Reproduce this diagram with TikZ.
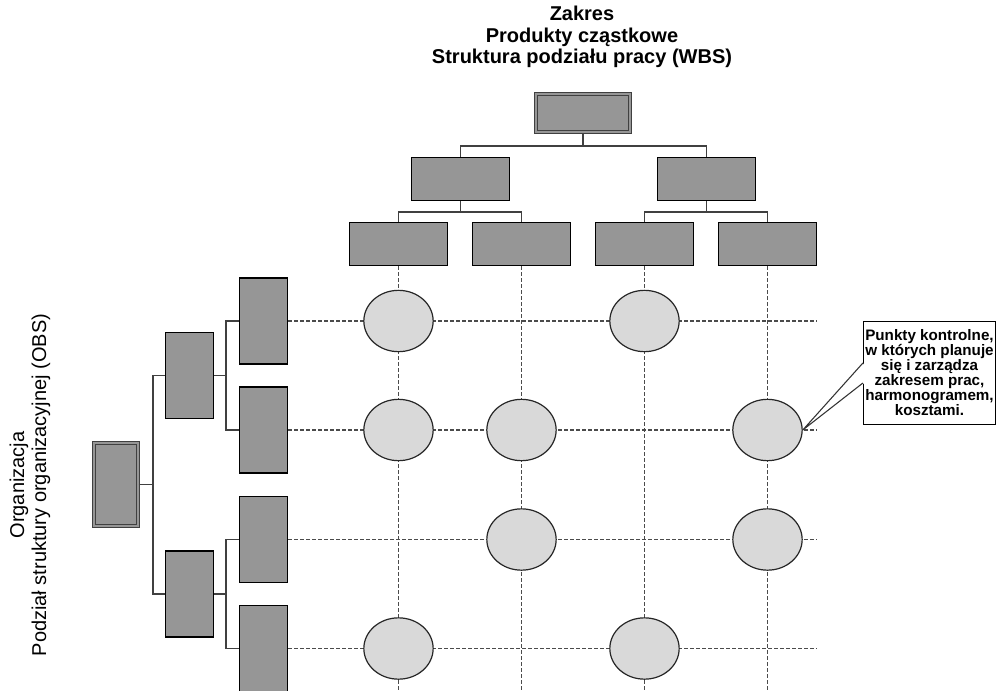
\documentclass[tikz,border=0pt]{standalone}
\usepackage{fontspec}
\setmainfont{Liberation Sans}
\usetikzlibrary{shapes.geometric,calc}
\definecolor{boxgray}{RGB}{150,150,150}
\definecolor{ptgray}{RGB}{217,217,217}
\definecolor{linegray}{RGB}{75,75,75}
\begin{document}
\begin{tikzpicture}[x=0.75pt,y=-0.75pt,
  box/.style={draw=black, fill=boxgray, line width=1.1pt, inner sep=0pt},
  hbox/.style={box, minimum width=73.5pt, minimum height=32pt},
  vbox/.style={box, minimum width=36pt, minimum height=64.5pt},
  dbl/.style={draw=black!75, fill=boxgray, double=boxgray, line width=0.8pt, double distance=1.3pt, inner sep=0pt},
  ptnode/.style={ellipse, draw=black!85, fill=ptgray, line width=0.9pt, minimum width=52pt, minimum height=46pt, inner sep=0pt},
  tree/.style={draw=black!75, line width=1pt},
  gridline/.style={draw=linegray, line width=1.1pt, dash pattern=on 3pt off 1.5pt},
  notebox/.style={rectangle, draw=black, fill=white, line width=0.9pt, minimum width=99pt, minimum height=77.25pt, inner sep=0pt, align=center, font=\fontsize{11.4}{11.25}\selectfont\bfseries},
  pointer/.style={draw=black!80, line width=0.8pt}
]
\clip (0,0) rectangle (997,690);

% titles
\node[font=\fontsize{15}{16}\selectfont\bfseries, align=center] (title) at (582,37) {Zakres\\Produkty cząstkowe\\Struktura podziału pracy (WBS)};
\node[font=\fontsize{15}{16.5}\selectfont, align=center, rotate=90] (obstitle) at (30,485) {Organizacja\\Podział struktury organizacyjnej (OBS)};

% WBS
\node[dbl, minimum width=71pt, minimum height=29pt] (top) at (583,113) {};
\node[hbox] (w1) at (460.5,179) {};
\node[hbox] (w2) at (706.5,179) {};
\node[hbox] (w11) at (398.5,244) {};
\node[hbox] (w12) at (521.5,244) {};
\node[hbox] (w21) at (644.5,244) {};
\node[hbox] (w22) at (767.5,244) {};

\coordinate (wb0) at (583,146);
\coordinate (wb1) at (460.5,212);
\coordinate (wb2) at (706.5,212);
\draw[tree] (top.south) -- (wb0);
\draw[tree] (w1.north) |- (wb0) -| (w2.north);
\draw[tree] (w1.south) -- (wb1);
\draw[tree] (w11.north) |- (wb1) -| (w12.north);
\draw[tree] (w2.south) -- (wb2);
\draw[tree] (w21.north) |- (wb2) -| (w22.north);

% OBS
\node[dbl, minimum width=33pt, minimum height=62pt] (root) at (116,484.5) {};
\node[vbox] (o1) at (189.5,375.5) {};
\node[vbox] (o2) at (189.5,594) {};
\node[vbox] (o11) at (263.5,321) {};
\node[vbox] (o12) at (263.5,430) {};
\node[vbox] (o21) at (263.5,539.5) {};
\node[vbox] (o22) at (263.5,648.5) {};

\coordinate (ob0) at (153,484.5);
\coordinate (ob1) at (226,375.5);
\coordinate (ob2) at (226,594);
\draw[tree] (root.east) -- (ob0);
\draw[tree] (o1.west) -| (ob0) |- (o2.west);
\draw[tree] (o1.east) -- (ob1);
\draw[tree] (o11.west) -| (ob1) |- (o12.west);
\draw[tree] (o2.east) -- (ob2);
\draw[tree] (o21.west) -| (ob2) |- (o22.west);

% grid
\coordinate (gb) at (0,692);
\coordinate (gr) at (817,0);
\foreach \w in {w11,w12,w21,w22} {
  \draw[gridline] (\w.south) -- (\w.south |- gb);
}
\foreach \o in {o11,o12,o21,o22} {
  \draw[gridline] (\o.east) -- (\o.east -| gr);
}

% control points
\node[ptnode] (c11) at (w11 |- o11) {};
\node[ptnode] (c13) at (w21 |- o11) {};
\node[ptnode] (c21) at (w11 |- o12) {};
\node[ptnode] (c22) at (w12 |- o12) {};
\node[ptnode] (c24) at (w22 |- o12) {};
\node[ptnode] (c32) at (w12 |- o21) {};
\node[ptnode] (c34) at (w22 |- o21) {};
\node[ptnode] (c41) at (w11 |- o22) {};
\node[ptnode] (c43) at (w21 |- o22) {};

% callout
\node[notebox] (callout) at (929.5,373) {Punkty kontrolne,\\w których planuje\\się i zarządza\\zakresem prac,\\harmonogramem,\\kosztami.};
\fill[white] ($(callout.west)+(1.5,-10)$) -- (c24.east) -- ($(callout.west)+(1.5,10)$) -- cycle;
\draw[pointer] ($(callout.west)+(0,-10)$) -- (c24.east) -- ($(callout.west)+(0,10)$);
\end{tikzpicture}
\end{document}
